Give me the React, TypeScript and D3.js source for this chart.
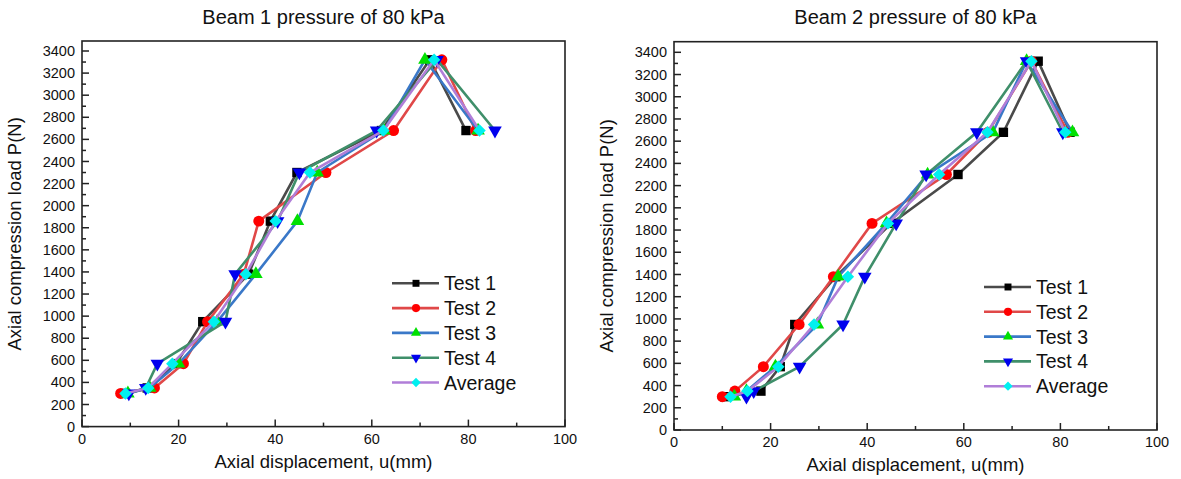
import React from "react";
import * as d3 from "d3";

const loads = [300, 350, 570, 950, 1380, 1860, 2300, 2680, 3320, 2680];

const b1Test1 = [9, 13.5, 19.5, 25, 34.5, 39, 44.5, 62, 72, 79.5];
const b1Test2 = [8, 15, 21, 26, 33.5, 36.6, 50.5, 64.5, 74.5, 81.5];
const b1Test3 = [9.5, 14, 20, 28, 36, 44.6, 48.7, 62.5, 71, 82];
const b1Test4 = [9.7, 13.2, 15.6, 29.7, 31.7, 40.5, 45, 61, 73.5, 85.5];
const b1Avg = [9, 13.7, 18.7, 27.3, 33.9, 40.1, 47.2, 62.4, 72.9, 82.3];

const b2Test1 = [10.5, 18, 22, 25, 33.5, 45, 58.8, 68.2, 75.4, 82];
const b2Test2 = [10, 12.6, 18.5, 25.9, 33, 41, 56.4, 65, 74, 81.5];
const b2Test3 = [12.5, 15, 21, 29.7, 34, 44, 52.5, 66, 73, 82.5];
const b2Test4 = [15, 16.5, 26, 35, 39.5, 46, 52.2, 62.7, 73, 80.5];
const b2Avg = [11.7, 15.2, 21.6, 29, 36, 44.3, 54.9, 64.9, 74, 81];

const seriesNames = ["Test 1", "Test 2", "Test 3", "Test 4", "Average"];
const lineColors = ["#4a4a4a", "#e04848", "#3a78c8", "#3f8f6a", "#b07ed8"];
const markerColors = ["#000000", "#ff0000", "#00e000", "#0000ee", "#00f0f0"];
const markerTypes = ["square", "circle", "triangle", "triangleDown", "diamond"];

const xTicks = [0, 20, 40, 60, 80, 100];
const xMinor = [10, 30, 50, 70, 90];
const yTicks = d3.range(0, 3401, 200);
const yMinor = d3.range(100, 3400, 200);

const FONT = "Liberation Sans, Arial, sans-serif";

function markerPath(type: string, scale: number) {
  switch (type) {
    case "square":
      return d3.symbol(d3.symbolSquare, 88 * scale)()!;
    case "circle":
      return d3.symbol(d3.symbolCircle, 95 * scale)()!;
    case "triangle":
    case "triangleDown":
      return d3.symbol(d3.symbolTriangle, 80 * scale)()!;
    case "diamond":
      return d3.symbol(d3.symbolSquare, 78 * scale)()!;
  }
  return "";
}
function markerTransform(type: string, x: number, y: number) {
  if (type === "triangleDown") return `translate(${x},${y}) rotate(180)`;
  if (type === "diamond") return `translate(${x},${y}) rotate(45)`;
  return `translate(${x},${y})`;
}

type ChartProps = {
  title: string;
  x0: number;
  x100: number;
  y0: number;
  y3400: number;
  top: number;
  data: number[][];
  legendX: number;
  legendY: number;
};

function Chart({ title, x0, x100, y0, y3400, top, data, legendX, legendY }: ChartProps) {
  const x = d3.scaleLinear().domain([0, 100]).range([x0, x100]);
  const y = d3.scaleLinear().domain([0, 3400]).range([y0, y3400]);
  const line = d3
    .line<[number, number]>()
    .x((d) => x(d[0]))
    .y((d) => y(d[1]));
  const axisColor = "#222";
  return (
    <g>
      <text
        x={(x0 + x100) / 2}
        y={24}
        textAnchor="middle"
        fontFamily={FONT}
        fontSize={20}
        fill="#111"
      >
        {title}
      </text>
      <rect
        x={x0}
        y={top}
        width={x100 - x0}
        height={y0 - top}
        fill="none"
        stroke={axisColor}
        strokeWidth={1.6}
      />
      {yTicks.map((t) => (
        <g key={"yt" + t}>
          <line x1={x0} x2={x0 + 7} y1={y(t)} y2={y(t)} stroke={axisColor} strokeWidth={1.5} />
          <text
            x={x0 - 7}
            y={y(t)}
            dy="0.35em"
            textAnchor="end"
            fontFamily={FONT}
            fontSize={14.5}
            fill="#111"
          >
            {t}
          </text>
        </g>
      ))}
      {yMinor.map((t) => (
        <line key={"ym" + t} x1={x0} x2={x0 + 4} y1={y(t)} y2={y(t)} stroke={axisColor} strokeWidth={1.5} />
      ))}
      {xTicks.map((t) => (
        <g key={"xt" + t}>
          <line x1={x(t)} x2={x(t)} y1={y0} y2={y0 - 7} stroke={axisColor} strokeWidth={1.5} />
          <text
            x={x(t)}
            y={y0 + 17}
            textAnchor="middle"
            fontFamily={FONT}
            fontSize={14.5}
            fill="#111"
          >
            {t}
          </text>
        </g>
      ))}
      {xMinor.map((t) => (
        <line key={"xm" + t} x1={x(t)} x2={x(t)} y1={y0} y2={y0 - 4} stroke={axisColor} strokeWidth={1.5} />
      ))}
      <text
        x={(x0 + x100) / 2}
        y={y0 + 41}
        textAnchor="middle"
        fontFamily={FONT}
        fontSize={18.5}
        fill="#111"
      >
        Axial displacement, u(mm)
      </text>
      <text
        transform={`translate(${x0 - 61},${(y0 + top) / 2}) rotate(-90)`}
        textAnchor="middle"
        fontFamily={FONT}
        fontSize={18.5}
        fill="#111"
      >
        Axial compression load P(N)
      </text>
      {data.map((xs, i) => {
        const pts: [number, number][] = xs.map((v, j) => [v, loads[j]]);
        return (
          <g key={"s" + i}>
            <path d={line(pts)!} fill="none" stroke={lineColors[i]} strokeWidth={2.6} />
            {pts.map((p, j) => (
              <path
                key={j}
                d={markerPath(markerTypes[i], 1)}
                transform={markerTransform(markerTypes[i], x(p[0]), y(p[1]))}
                fill={markerColors[i]}
              />
            ))}
          </g>
        );
      })}
      {seriesNames.map((n, i) => {
        const ly = legendY + i * 24.8;
        return (
          <g key={"l" + i}>
            <line x1={legendX} x2={legendX + 47} y1={ly} y2={ly} stroke={lineColors[i]} strokeWidth={2.6} />
            <path
              d={markerPath(markerTypes[i], 0.55)}
              transform={markerTransform(markerTypes[i], legendX + 24, ly)}
              fill={markerColors[i]}
            />
            <text
              x={legendX + 52}
              y={ly}
              dy="0.36em"
              fontFamily={FONT}
              fontSize={19.5}
              fill="#111"
            >
              {n}
            </text>
          </g>
        );
      })}
    </g>
  );
}

export default function App() {
  return (
    <svg
      width={1181}
      height={479}
      style={{ position: "absolute", left: 0, top: 0, background: "#fff" }}
    >
      <rect width={1181} height={479} fill="#fff" />
      <Chart
        title="Beam 1 pressure of 80 kPa"
        x0={82}
        x100={565}
        y0={426.6}
        y3400={51}
        top={41}
        data={[b1Test1, b1Test2, b1Test3, b1Test4, b1Avg]}
        legendX={392}
        legendY={283.3}
      />
      <Chart
        title="Beam 2 pressure of 80 kPa"
        x0={674}
        x100={1157}
        y0={430}
        y3400={52.3}
        top={41.7}
        data={[b2Test1, b2Test2, b2Test3, b2Test4, b2Avg]}
        legendX={984}
        legendY={287}
      />
    </svg>
  );
}
